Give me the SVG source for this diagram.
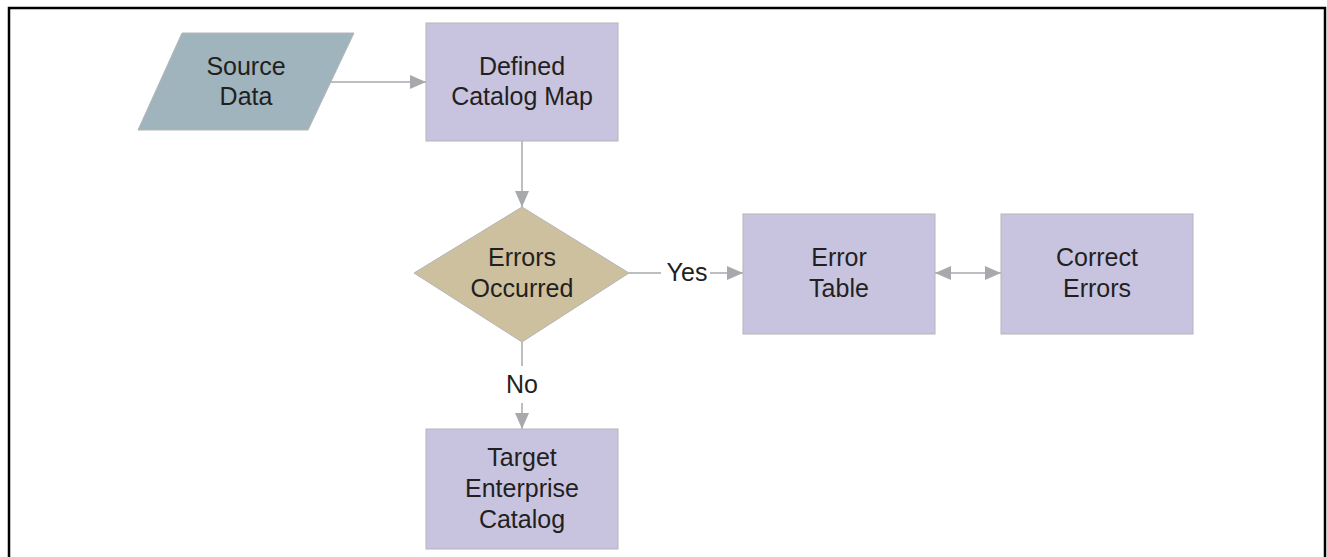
<svg xmlns="http://www.w3.org/2000/svg" width="1327" height="557" viewBox="0 0 1327 557">
<defs>
<marker id="ah" viewBox="0 0 16 14" refX="16" refY="7" markerWidth="16" markerHeight="14" markerUnits="userSpaceOnUse" orient="auto-start-reverse">
<path d="M0,0 L16,7 L0,14 Z" fill="#a7a9ac"/>
</marker>
</defs>
<style>
.proc{fill:#c8c4e0;stroke:#b5b5b8;stroke-width:1}
.io{fill:#9fb4bd;stroke:#b5b5b8;stroke-width:1}
.dec{fill:#cdc09f;stroke:#b5b5b8;stroke-width:1}
.t{font-family:"Liberation Sans",Arial,sans-serif;font-size:25px;fill:#231f20;text-anchor:middle}
.c{fill:none;stroke:#a7a9ac;stroke-width:1.5}
</style>
<rect width="1327" height="557" fill="#ffffff"/>
<path d="M9,565 L9,8 L1325,8 L1325,565" fill="none" stroke="#000000" stroke-width="2.5"/>
<g id="connectors">
<line class="c" x1="331" y1="82" x2="426" y2="82" marker-end="url(#ah)"/>
<line class="c" x1="522" y1="141" x2="522" y2="207" marker-end="url(#ah)"/>
<line class="c" x1="629" y1="273" x2="661" y2="273"/>
<line class="c" x1="710" y1="273" x2="743" y2="273" marker-end="url(#ah)"/>
<line class="c" x1="935" y1="273" x2="1001" y2="273" marker-start="url(#ah)" marker-end="url(#ah)"/>
<line class="c" x1="522" y1="342" x2="522" y2="366"/>
<line class="c" x1="522" y1="403" x2="522" y2="429" marker-end="url(#ah)"/>
<text class="t" x="687" y="281">Yes</text>
<text class="t" x="522" y="393">No</text>
</g>
<g id="source-data">
<polygon class="io" points="182,33 354,33 308,130 138,130"/>
<text class="t" x="246" y="75">Source</text>
<text class="t" x="246" y="105">Data</text>
</g>
<g id="defined-catalog-map">
<rect class="proc" x="426" y="23" width="192" height="118"/>
<text class="t" x="522" y="75">Defined</text>
<text class="t" x="522" y="105">Catalog Map</text>
</g>
<g id="errors-occurred">
<polygon class="dec" points="522,207 629,273 522,342 414,273"/>
<text class="t" x="522" y="266">Errors</text>
<text class="t" x="522" y="297">Occurred</text>
</g>
<g id="error-table">
<rect class="proc" x="743" y="214" width="192" height="120"/>
<text class="t" x="839" y="266">Error</text>
<text class="t" x="839" y="297">Table</text>
</g>
<g id="correct-errors">
<rect class="proc" x="1001" y="214" width="192" height="120"/>
<text class="t" x="1097" y="266">Correct</text>
<text class="t" x="1097" y="297">Errors</text>
</g>
<g id="target-enterprise-catalog">
<rect class="proc" x="426" y="429" width="192" height="120"/>
<text class="t" x="522" y="466">Target</text>
<text class="t" x="522" y="497">Enterprise</text>
<text class="t" x="522" y="528">Catalog</text>
</g>
</svg>
